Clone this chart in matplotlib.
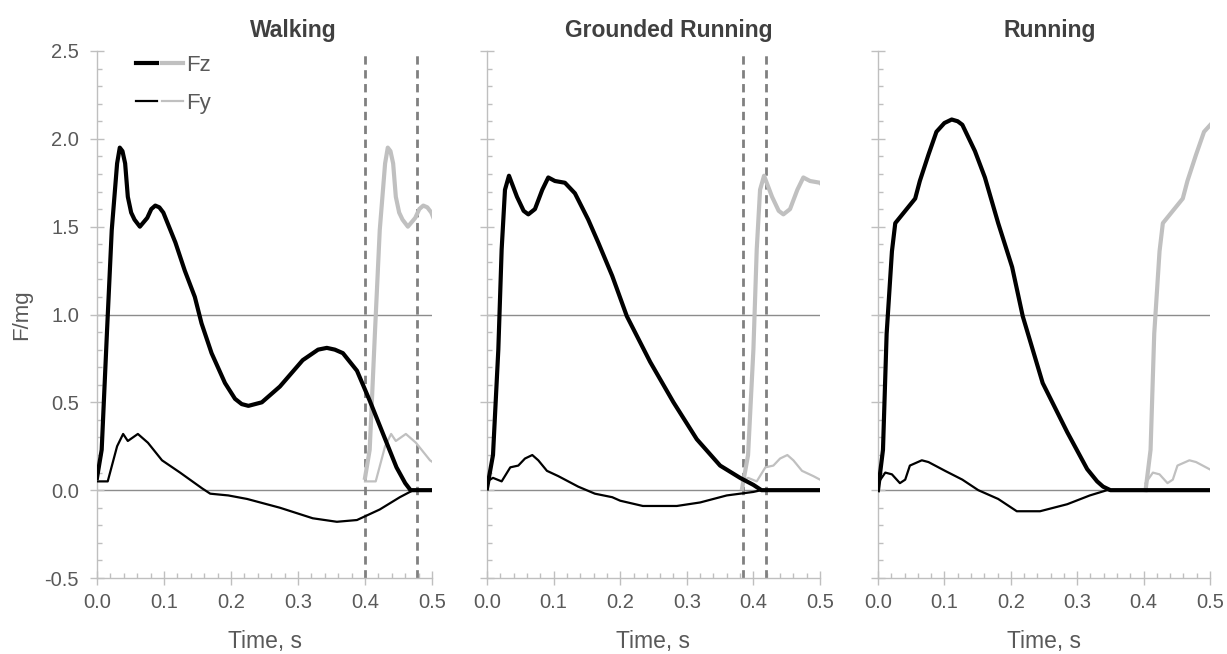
import numpy as np
import matplotlib
import matplotlib.pyplot as plt
from matplotlib.legend_handler import HandlerTuple
from matplotlib.ticker import MultipleLocator, FormatStrFormatter

matplotlib.use('agg')
plt.rcParams['font.family'] = ['Liberation Sans', 'DejaVu Sans']

# Walking: one contact
walk_t = [0.0, 0.007, 0.015, 0.022, 0.030, 0.034, 0.038, 0.042, 0.046, 0.051, 0.056, 0.064,
          0.075, 0.081, 0.087, 0.093, 0.099, 0.117, 0.131, 0.146, 0.156, 0.171, 0.191, 0.206,
          0.216, 0.226, 0.236, 0.246, 0.273, 0.307, 0.330, 0.343, 0.355, 0.367, 0.388, 0.407,
          0.427, 0.447, 0.460, 0.468, 0.5]
walk_fz = [0.07, 0.23, 0.91, 1.48, 1.86, 1.95, 1.93, 1.86, 1.67, 1.58, 1.54, 1.50,
           1.55, 1.60, 1.62, 1.61, 1.58, 1.41, 1.25, 1.10, 0.95, 0.78, 0.61, 0.52,
           0.49, 0.48, 0.49, 0.50, 0.59, 0.74, 0.80, 0.81, 0.80, 0.78, 0.68, 0.51,
           0.32, 0.13, 0.04, 0.0, 0.0]
walk_fy_t = [0.0, 0.016, 0.030, 0.039, 0.046, 0.061, 0.076, 0.097, 0.124, 0.157, 0.169, 0.196,
             0.224, 0.273, 0.322, 0.358, 0.388, 0.422, 0.452, 0.472, 0.5]
walk_fy = [0.05, 0.05, 0.25, 0.32, 0.28, 0.32, 0.27, 0.17, 0.10, 0.01, -0.02, -0.03,
           -0.05, -0.10, -0.16, -0.18, -0.17, -0.11, -0.04, 0.0, 0.0]

# Grounded running
grun_t = [0.0, 0.009, 0.017, 0.022, 0.027, 0.033, 0.045, 0.055, 0.062, 0.072, 0.083, 0.092,
          0.102, 0.117, 0.132, 0.152, 0.167, 0.188, 0.210, 0.245, 0.280, 0.315, 0.350, 0.380,
          0.400, 0.412, 0.5]
grun_fz = [0.01, 0.20, 0.80, 1.37, 1.71, 1.79, 1.67, 1.59, 1.57, 1.60, 1.71, 1.78,
           1.76, 1.75, 1.69, 1.54, 1.41, 1.22, 0.99, 0.73, 0.50, 0.29, 0.14, 0.07,
           0.03, 0.0, 0.0]
grun_fy_t = [0.0, 0.009, 0.022, 0.035, 0.047, 0.057, 0.068, 0.077, 0.090, 0.107, 0.137, 0.162,
             0.188, 0.200, 0.234, 0.285, 0.320, 0.360, 0.400, 0.412, 0.5]
grun_fy = [0.05, 0.07, 0.05, 0.13, 0.14, 0.18, 0.20, 0.17, 0.11, 0.08, 0.02, -0.02,
           -0.04, -0.06, -0.09, -0.09, -0.07, -0.03, -0.01, 0.0, 0.0]

# Running
run_t = [0.0, 0.0075, 0.013, 0.021, 0.026, 0.041, 0.056, 0.063, 0.076, 0.088, 0.100, 0.111,
         0.120, 0.127, 0.146, 0.161, 0.181, 0.202, 0.218, 0.248, 0.285, 0.315, 0.330, 0.339,
         0.350, 0.5]
run_fz = [0.0, 0.23, 0.89, 1.36, 1.52, 1.59, 1.66, 1.76, 1.91, 2.04, 2.09, 2.11,
          2.10, 2.08, 1.93, 1.78, 1.52, 1.27, 0.99, 0.61, 0.33, 0.12, 0.05, 0.02,
          0.0, 0.0]
run_fy_t = [0.0, 0.011, 0.021, 0.033, 0.041, 0.048, 0.066, 0.076, 0.101, 0.127, 0.151, 0.181,
            0.209, 0.244, 0.285, 0.319, 0.345, 0.5]
run_fy = [0.04, 0.10, 0.09, 0.04, 0.06, 0.14, 0.17, 0.16, 0.11, 0.06, 0.0, -0.05,
          -0.12, -0.12, -0.08, -0.03, 0.0, 0.0]

titles = ['Walking', 'Grounded Running', 'Running']
# start of the next step (grey curves) and dashed markers
next_step = [0.400, 0.383, 0.403]
dashed = [[0.400, 0.477], [0.384, 0.4185], []]

panels = [(walk_t, walk_fz, walk_fy_t, walk_fy),
          (grun_t, grun_fz, grun_fy_t, grun_fy),
          (run_t, run_fz, run_fy_t, run_fy)]

tick_col = '#595959'
axis_col = '#bfbfbf'
grey = '#c0c0c0'

fig = plt.figure(figsize=(12.27, 6.54), dpi=100)
lefts = [97 / 1227, 487 / 1227, 878 / 1227]
widths = [335 / 1227, 333 / 1227, 332 / 1227]
title_x = [0.585, 0.547, 0.518]
bottom = (654 - 578) / 654
height = (578 - 51) / 654

for i, (tz, fz, ty, fy) in enumerate(panels):
    ax = fig.add_axes([lefts[i], bottom, widths[i], height])
    off = next_step[i]

    ax.axhline(0, color='#8c8c8c', lw=1.0, zorder=1)
    ax.axhline(1, color='#8c8c8c', lw=1.0, zorder=1)
    for d in dashed[i]:
        ax.axvline(d, color='#808080', lw=2.0, dashes=(3, 2), zorder=2)

    # next step in grey
    gz, = ax.plot(np.array(tz) + off, fz, color=grey, lw=3.0, zorder=3,
                  solid_joinstyle='round')
    gy, = ax.plot(np.array(ty) + off, fy, color=grey, lw=1.6, zorder=3,
                  solid_joinstyle='round')
    # current step in black
    bz, = ax.plot(tz, fz, color='black', lw=3.0, zorder=4, solid_joinstyle='round')
    by, = ax.plot(ty, fy, color='black', lw=1.6, zorder=4, solid_joinstyle='round')

    ax.set_xlim(0, 0.5)
    ax.set_ylim(-0.5, 2.5)
    ax.xaxis.set_major_locator(MultipleLocator(0.1))
    ax.xaxis.set_minor_locator(MultipleLocator(0.02))
    ax.yaxis.set_major_locator(MultipleLocator(0.5))
    ax.yaxis.set_minor_locator(MultipleLocator(0.1))
    ax.xaxis.set_major_formatter(FormatStrFormatter('%.1f'))
    ax.yaxis.set_major_formatter(FormatStrFormatter('%.1f'))

    for s in ['top', 'right']:
        ax.spines[s].set_visible(False)
    for s in ['left', 'bottom']:
        ax.spines[s].set_color(axis_col)
        ax.spines[s].set_linewidth(1.0)

    ax.tick_params(which='major', direction='inout', length=10, width=1.0,
                   color=axis_col, labelcolor=tick_col, labelsize=14.5)
    ax.tick_params(which='minor', direction='in', length=3.5, width=1.0, color=axis_col)
    ax.tick_params(axis='y', which='major', pad=8)
    ax.tick_params(axis='x', which='major', pad=6)
    if i > 0:
        ax.tick_params(axis='y', labelleft=False)
    else:
        ax.set_ylabel('F/mg', fontsize=16, color=tick_col, labelpad=9)
        ax.legend([(bz, gz), (by, gy)], ['Fz', 'Fy'],
                  handler_map={tuple: HandlerTuple(ndivide=None, pad=0.25)},
                  loc='upper left', bbox_to_anchor=(0.057, 1.03), frameon=False,
                  fontsize=16, handlelength=2.1, handletextpad=0.15,
                  labelspacing=0.75, labelcolor=tick_col)

    ax.set_xlabel('Time, s', fontsize=16.5, color=tick_col, labelpad=13)
    ax.set_title(titles[i], x=title_x[i], fontsize=16.5, fontweight='bold',
                 color='#404040', pad=10)

fig.savefig('out.png', dpi=100)
